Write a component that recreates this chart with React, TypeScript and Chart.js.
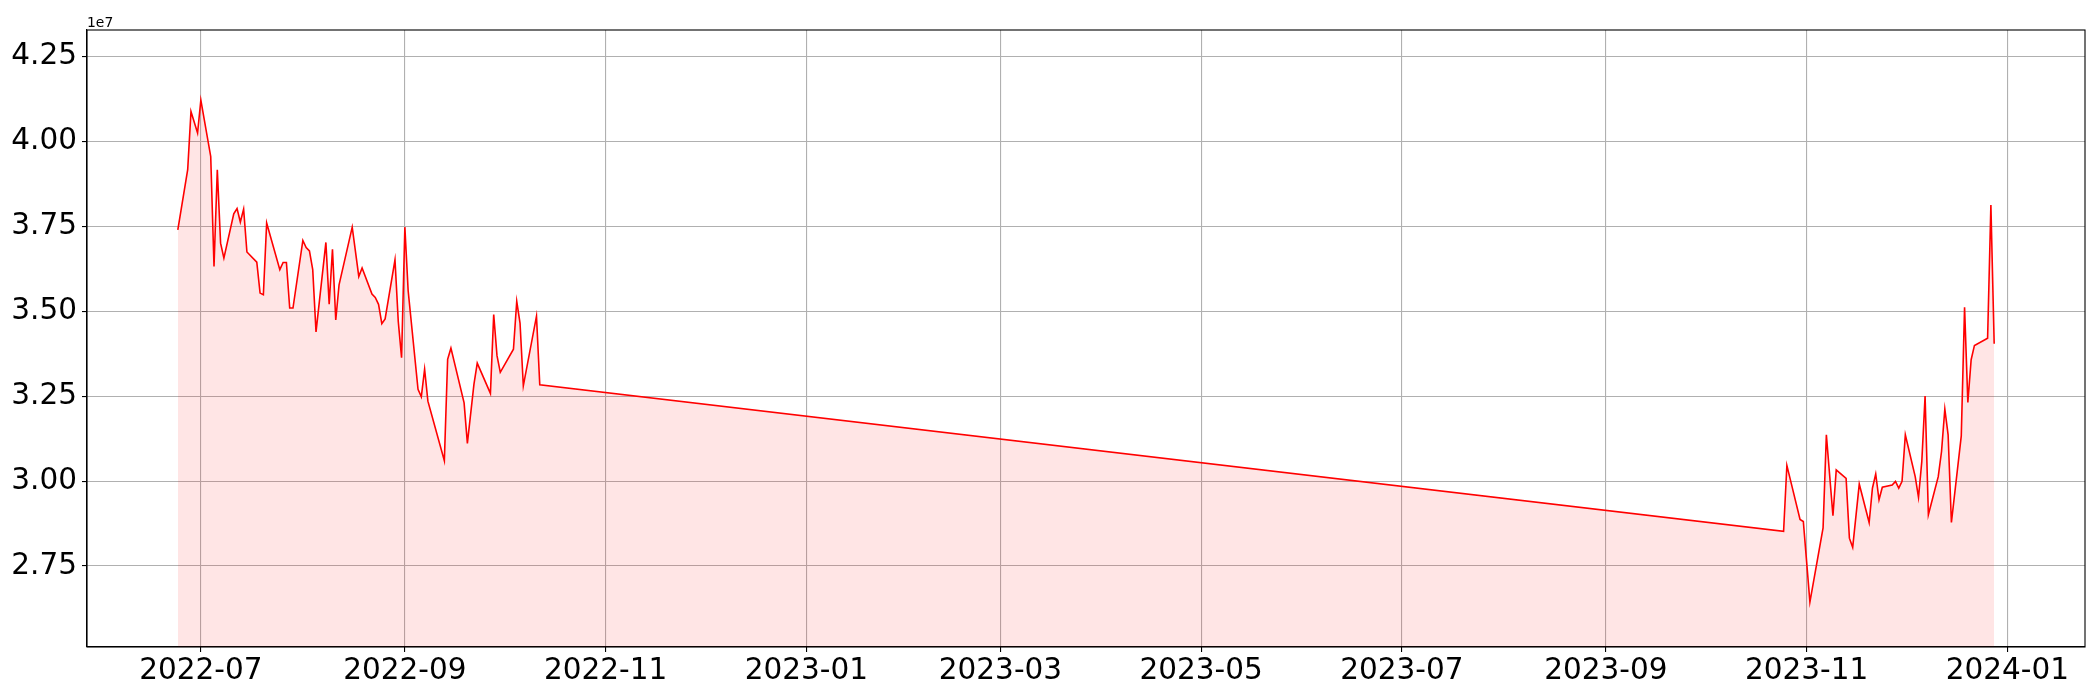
import { useEffect, useRef } from 'react';
import { Chart, registerables } from 'chart.js';

Chart.register(...registerables);

// ---- data (values in absolute units, axis shows them scaled by 1e7) ----
const dates: string[] = [
  '2022-06-24', '2022-06-27', '2022-06-28', '2022-06-30', '2022-07-01',
  '2022-07-04', '2022-07-05', '2022-07-06', '2022-07-07', '2022-07-08',
  '2022-07-11', '2022-07-12', '2022-07-13', '2022-07-14', '2022-07-15',
  '2022-07-18', '2022-07-19', '2022-07-20', '2022-07-21', '2022-07-25',
  '2022-07-26', '2022-07-27', '2022-07-28', '2022-07-29', '2022-08-01',
  '2022-08-02', '2022-08-03', '2022-08-04', '2022-08-05', '2022-08-08',
  '2022-08-09', '2022-08-10', '2022-08-11', '2022-08-12', '2022-08-16',
  '2022-08-18', '2022-08-19', '2022-08-22', '2022-08-23', '2022-08-24',
  '2022-08-25', '2022-08-26', '2022-08-29', '2022-08-30', '2022-08-31',
  '2022-09-01', '2022-09-02', '2022-09-05', '2022-09-06', '2022-09-07',
  '2022-09-08', '2022-09-13', '2022-09-14', '2022-09-15', '2022-09-19',
  '2022-09-20', '2022-09-22', '2022-09-23', '2022-09-27', '2022-09-28',
  '2022-09-29', '2022-09-30', '2022-10-04', '2022-10-05', '2022-10-06',
  '2022-10-07', '2022-10-11', '2022-10-12',
  '2023-10-25', '2023-10-26', '2023-10-30', '2023-10-31', '2023-11-02',
  '2023-11-06', '2023-11-07', '2023-11-09', '2023-11-10', '2023-11-13',
  '2023-11-14', '2023-11-15', '2023-11-17', '2023-11-20', '2023-11-21',
  '2023-11-22', '2023-11-23', '2023-11-24', '2023-11-27', '2023-11-28',
  '2023-11-29', '2023-11-30', '2023-12-01', '2023-12-04', '2023-12-05',
  '2023-12-06', '2023-12-07', '2023-12-08', '2023-12-11', '2023-12-12',
  '2023-12-13', '2023-12-14', '2023-12-15', '2023-12-18', '2023-12-19',
  '2023-12-20', '2023-12-21', '2023-12-22', '2023-12-26', '2023-12-27',
  '2023-12-28',
];

const values: number[] = [
  3.739e7, 3.916e7, 4.087e7, 4.024e7, 4.121e7,
  3.955e7, 3.631e7, 3.916e7, 3.700e7, 3.656e7,
  3.786e7, 3.802e7, 3.762e7, 3.800e7, 3.674e7,
  3.644e7, 3.553e7, 3.548e7, 3.759e7, 3.622e7,
  3.643e7, 3.643e7, 3.509e7, 3.509e7, 3.708e7,
  3.687e7, 3.677e7, 3.622e7, 3.439e7, 3.702e7,
  3.520e7, 3.682e7, 3.474e7, 3.577e7, 3.747e7,
  3.602e7, 3.627e7, 3.550e7, 3.540e7, 3.520e7,
  3.463e7, 3.477e7, 3.651e7, 3.469e7, 3.363e7,
  3.747e7, 3.560e7, 3.270e7, 3.248e7, 3.329e7,
  3.235e7, 3.060e7, 3.358e7, 3.391e7, 3.230e7,
  3.111e7, 3.285e7, 3.347e7, 3.258e7, 3.490e7,
  3.369e7, 3.320e7, 3.388e7, 3.529e7, 3.465e7,
  3.280e7, 3.485e7, 3.283e7,
  2.852e7, 3.046e7, 2.887e7, 2.881e7, 2.644e7,
  2.862e7, 3.136e7, 2.898e7, 3.033e7, 3.008e7,
  2.832e7, 2.805e7, 2.991e7, 2.878e7, 2.979e7,
  3.021e7, 2.945e7, 2.982e7, 2.988e7, 2.999e7,
  2.979e7, 2.999e7, 3.136e7, 3.013e7, 2.952e7,
  3.057e7, 3.250e7, 2.901e7, 3.013e7, 3.087e7,
  3.212e7, 3.136e7, 2.878e7, 3.133e7, 3.511e7,
  3.231e7, 3.357e7, 3.399e7, 3.420e7, 3.812e7,
  3.404e7,
];

const xTickLabels: string[] = [
  '2022-07', '2022-09', '2022-11', '2023-01', '2023-03',
  '2023-05', '2023-07', '2023-09', '2023-11', '2024-01',
];

const yTickValues: number[] = [2.75e7, 3.0e7, 3.25e7, 3.5e7, 3.75e7, 4.0e7, 4.25e7];

const toMs = (s: string) => {
  const [y, m, d] = s.split('-').map(Number);
  return Date.UTC(y, m - 1, d || 1);
};

const FONT = '"DejaVu Sans", sans-serif';
const TICK_SIZE = 29.5;

export default function App() {
  const ref = useRef<HTMLCanvasElement | null>(null);

  useEffect(() => {
    if (!ref.current) return;
    const points = dates.map((d, i) => ({ x: toMs(d), y: values[i] }));
    const xs = points.map((p) => p.x);
    const xMinData = Math.min(...xs);
    const xMaxData = Math.max(...xs);
    const xPad = (xMaxData - xMinData) * 0.05;
    const yMin = Math.min(...values) * 0.95;
    const yMax = Math.max(...values) * 1.05;
    const xTickMs = xTickLabels.map((l) => toMs(l));

    const framePlugin = {
      id: 'frame',
      afterDraw(chart: any) {
        const { ctx, chartArea: a } = chart;
        ctx.save();
        ctx.strokeStyle = '#000';
        ctx.lineWidth = 1.1;
        ctx.strokeRect(a.left, a.top, a.right - a.left, a.bottom - a.top);
        ctx.fillStyle = '#000';
        ctx.font = `13.9px ${FONT}`;
        ctx.textAlign = 'left';
        ctx.textBaseline = 'alphabetic';
        ctx.fillText('1e7', a.left, a.top - 3);
        ctx.restore();
      },
    };

    const chart = new Chart(ref.current, {
      type: 'line',
      data: {
        datasets: [
          {
            data: points,
            borderColor: '#ff0000',
            borderWidth: 1.6,
            backgroundColor: 'rgba(255,0,0,0.1)',
            fill: 'start',
            pointRadius: 0,
            tension: 0,
          },
        ],
      },
      options: {
        responsive: false,
        animation: false,
        events: [],
        layout: { padding: { top: 30, right: 15, left: 0, bottom: 0 } },
        plugins: {
          legend: { display: false },
          tooltip: { enabled: false },
        },
        scales: {
          x: {
            type: 'linear',
            min: xMinData - xPad,
            max: xMaxData + xPad,
            afterBuildTicks: (s: any) => {
              s.ticks = xTickMs.map((v) => ({ value: v }));
            },
            afterFit: (s: any) => {
              s.height = 53;
            },
            ticks: {
              autoSkip: false,
              maxRotation: 0,
              minRotation: 0,
              padding: 2,
              color: '#000',
              font: { family: FONT, size: TICK_SIZE },
              callback: (v: any) => {
                const i = xTickMs.indexOf(Number(v));
                return i >= 0 ? xTickLabels[i] : '';
              },
            },
            grid: { color: '#b0b0b0', lineWidth: 1.1, tickColor: '#000', tickLength: 5 },
            border: { color: '#000', width: 1.1 },
          },
          y: {
            type: 'linear',
            min: yMin,
            max: yMax,
            afterBuildTicks: (s: any) => {
              s.ticks = yTickValues.map((v) => ({ value: v }));
            },
            afterFit: (s: any) => {
              s.width = 87;
            },
            ticks: {
              padding: 5,
              color: '#000',
              font: { family: FONT, size: TICK_SIZE },
              callback: (v: any) => (Number(v) / 1e7).toFixed(2),
            },
            grid: { color: '#b0b0b0', lineWidth: 1.1, tickColor: '#000', tickLength: 5 },
            border: { color: '#000', width: 1.1 },
          },
        },
      },
      plugins: [framePlugin],
    } as any);

    return () => chart.destroy();
  }, []);

  return (
    <div style={{ position: 'absolute', left: 0, top: 0, width: 2100, height: 700, background: '#fff' }}>
      <canvas ref={ref} width={2100} height={700} style={{ display: 'block' }} />
    </div>
  );
}
